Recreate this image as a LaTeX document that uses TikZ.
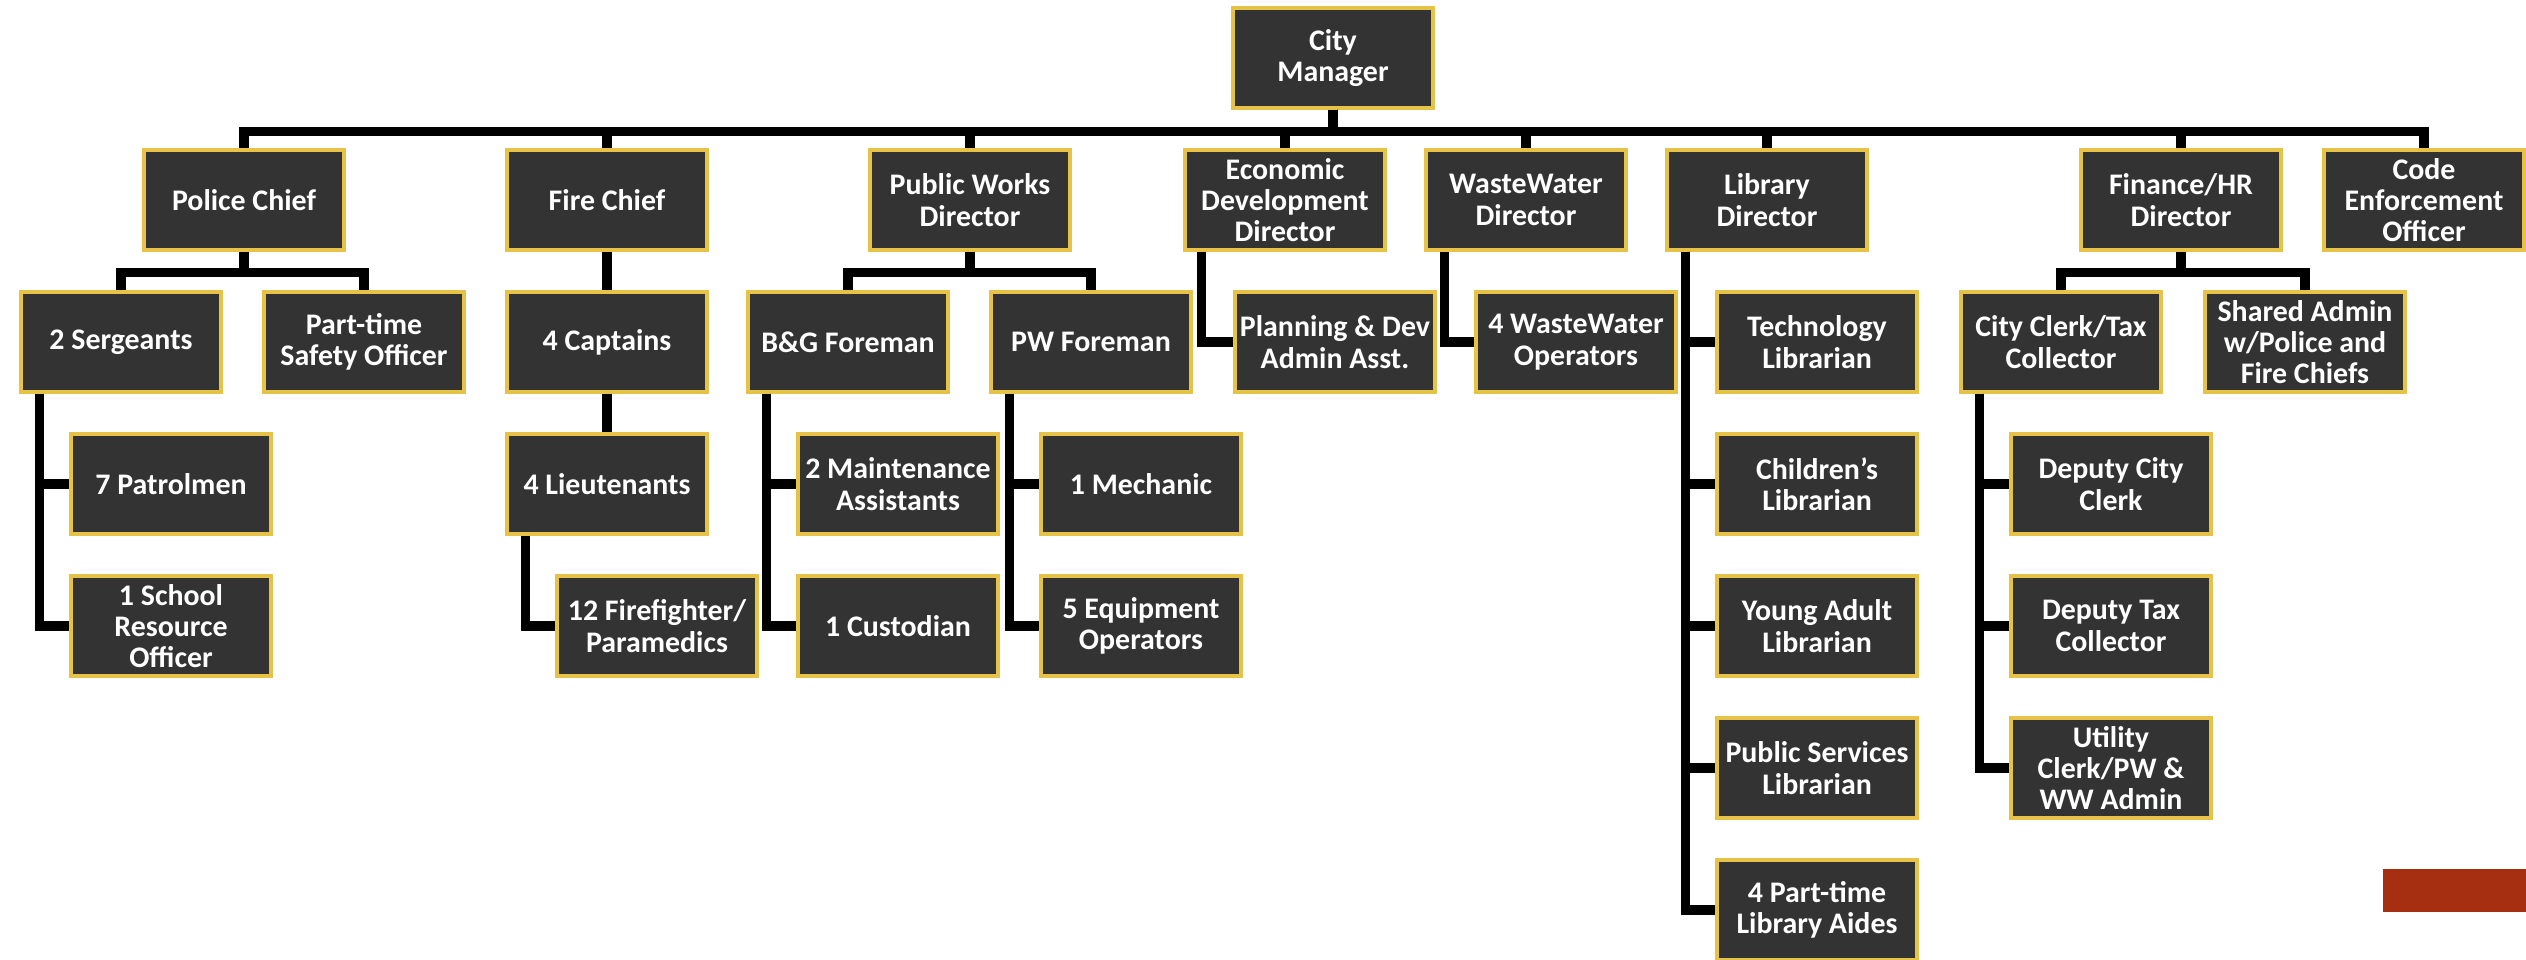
\documentclass[tikz,border=0pt]{standalone}
\usepackage{fontspec}
\setmainfont{Carlito}
\usetikzlibrary{calc}
\definecolor{boxgrey}{RGB}{51, 51, 51}
\definecolor{boxgold}{RGB}{230, 195, 70}
\definecolor{cornerred}{RGB}{166, 46, 17}

\begin{document}
\begin{tikzpicture}[x=0.01cm, y=-0.01cm,
    every node/.style={font=\bfseries\fontsize{8.5}{8.9}\selectfont},
    post/.style={draw=boxgold, fill=boxgrey, line width=0.9pt, text=white,
      align=center, minimum width=2cm, minimum height=1cm, inner sep=1pt},
    link/.style={line width=2.6pt, black}]
  \useasboundingbox (0,0) rectangle (2526,959);

  % top
  \node[post] (cm) at (1333,58) {City\\Manager};

  % directors
  \node[post] (pol)  at (244,200)  {Police Chief};
  \node[post] (fire) at (607,200)  {Fire Chief};
  \node[post] (pwd)  at (970,200)  {Public Works\\Director};
  \node[post] (econ) at (1285,200) {Economic\\Development\\Director};
  \node[post] (wwd)  at (1526,200) {WasteWater\\Director};
  \node[post] (lib)  at (1767,200) {Library\\Director};
  \node[post] (fin)  at (2181,200) {Finance/HR\\Director};
  \node[post] (code) at (2424,200) {Code\\Enforcement\\Officer};

  % second row
  \node[post] (serg)   at (121,342)  {2 Sergeants};
  \node[post] (safety) at (364,342)  {Part-time\\Safety Officer};
  \node[post] (capt)   at (607,342)  {4 Captains};
  \node[post] (bg)     at (848,342)  {B\&G Foreman};
  \node[post] (pwf)    at (1091,342) {PW Foreman};
  \node[post] (plan)   at (1335,342) {Planning \& Dev\\Admin Asst.};
  \node[post] (wwops)  at (1576,342) {4 WasteWater\\Operators};
  \node[post] (tech)   at (1817,342) {Technology\\Librarian};
  \node[post] (clerk)  at (2061,342) {City Clerk/Tax\\Collector};
  \node[post] (shared) at (2305,342) {Shared Admin\\w/Police and\\Fire Chiefs};

  % third row and below
  \node[post] (patrol) at (171,484)  {7 Patrolmen};
  \node[post] (school) at (171,626)  {1 School\\Resource\\Officer};
  \node[post] (lieut)  at (607,484)  {4 Lieutenants};
  \node[post] (ff)     at (657,626)  {12 Firefighter/\\Paramedics};
  \node[post] (maint)  at (898,484)  {2 Maintenance\\Assistants};
  \node[post] (custod) at (898,626)  {1 Custodian};
  \node[post] (mech)   at (1141,484) {1 Mechanic};
  \node[post] (equip)  at (1141,626) {5 Equipment\\Operators};
  \node[post] (child)  at (1817,484) {Children’s\\Librarian};
  \node[post] (young)  at (1817,626) {Young Adult\\Librarian};
  \node[post] (public) at (1817,768) {Public Services\\Librarian};
  \node[post] (aides)  at (1817,910) {4 Part-time\\Library Aides};
  \node[post] (dclerk) at (2111,484) {Deputy City\\Clerk};
  \node[post] (dtax)   at (2111,626) {Deputy Tax\\Collector};
  \node[post] (util)   at (2111,768) {Utility\\Clerk/PW \&\\WW Admin};

  % links
  \foreach \d in {pol,fire,pwd,econ,wwd,lib,fin,code}
    \draw[link] (cm.south) -- ++(0,22) -| (\d.north);
  \foreach \p/\a/\b in {pol/serg/safety, pwd/bg/pwf, fin/clerk/shared} {
    \draw[link] (\p.south) -- ++(0,21) -| (\a.north);
    \draw[link] (\p.south) -- ++(0,21) -| (\b.north);
  }
  \draw[link] (fire.south) -- (capt.north);
  \draw[link] (capt.south) -- (lieut.north);
  \foreach \p/\c in {serg/patrol, serg/school, lieut/ff, bg/maint, bg/custod,
      pwf/mech, pwf/equip, wwd/wwops, lib/tech, lib/child, lib/young,
      lib/public, lib/aides, clerk/dclerk, clerk/dtax, clerk/util}
    \draw[link] ($(\p.south west)+(20,0)$) |- (\c.west);
  \draw[link] ($(econ.south west)+(18,0)$) |- (plan.west);

  % corner mark
  \fill[cornerred] (2383,869) rectangle (2526,912);
\end{tikzpicture}
\end{document}
